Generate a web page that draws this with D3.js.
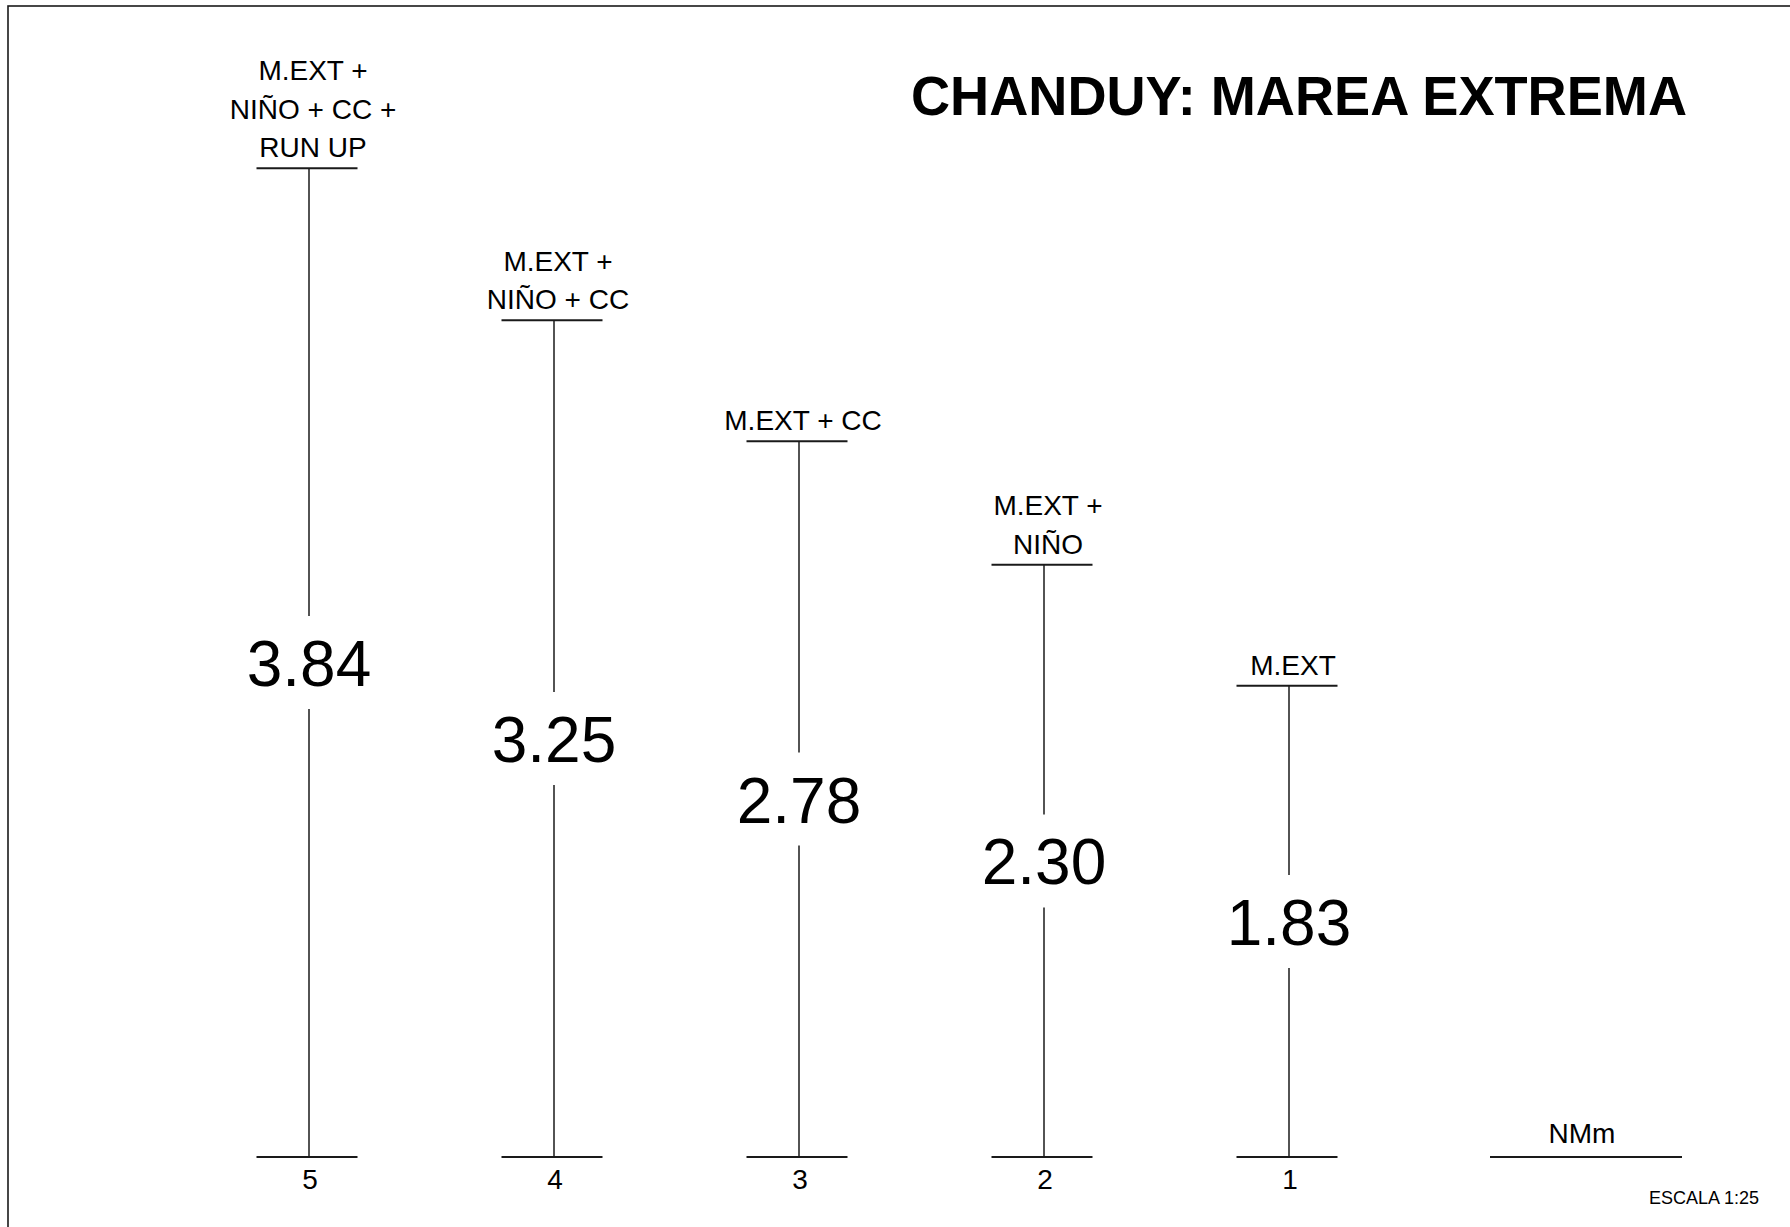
<!DOCTYPE html>
<html>
<head>
<meta charset="utf-8">
<script src="https://cdn.jsdelivr.net/npm/d3@7"></script>
<style>
	html, body { margin: 0; padding: 0; background: #fff; }
	svg { display: block; font-family: "Liberation Sans", Arial, sans-serif; }
</style>
</head>
<body>
<div id="chart"></div>
<script>
// data
var categories = ["5", "4", "3", "2", "1"];
var values = [3.84, 3.25, 2.78, 2.30, 1.83];
var valueLabels = ["3.84", "3.25", "2.78", "2.30", "1.83"];
var topLabels = [
	["M.EXT +", "NIÑO + CC +", "RUN UP"],
	["M.EXT +", "NIÑO + CC"],
	["M.EXT + CC"],
	["M.EXT +", "NIÑO"],
	["M.EXT"]
];
var refLabel = "NMm";
var titleText = "CHANDUY: MAREA EXTREMA";
var scaleText = "ESCALA 1:25";

var width = 1790, height = 1227;
var ink = "#1a1a1a";

var svg = d3.select("#chart").append("svg")
	.attr("width", width)
	.attr("height", height);

// frame (only top and left sides are inside the sheet)
svg.append("rect")
	.attr("x", 8)
	.attr("y", 6)
	.attr("width", width + 20)
	.attr("height", height + 20)
	.attr("fill", "none")
	.attr("stroke", ink)
	.attr("stroke-width", 1.6);

// scales
var x = d3.scalePoint().domain(categories).range([309, 1289]);
var y = d3.scaleLinear().domain([0, 3.84]).range([1157, 1157 - 3.84 * 257.5]);

var rows = categories.map(function (c, i) {
	return {cat: c, value: values[i], label: valueLabels[i], top: topLabels[i]};
});

var halfBar = 50.5;
var gap = 46.5;

var g = svg.selectAll("g.col")
	.data(rows)
	.enter().append("g")
	.attr("class", "col");

// base ticks
g.append("line")
	.attr("x1", function (d) { return x(d.cat) - 2 - halfBar; })
	.attr("x2", function (d) { return x(d.cat) - 2 + halfBar; })
	.attr("y1", y(0))
	.attr("y2", y(0))
	.attr("stroke", ink)
	.attr("stroke-width", 2);

// top ticks
g.append("line")
	.attr("x1", function (d) { return x(d.cat) - 2 - halfBar; })
	.attr("x2", function (d) { return x(d.cat) - 2 + halfBar; })
	.attr("y1", function (d) { return y(d.value); })
	.attr("y2", function (d) { return y(d.value); })
	.attr("stroke", ink)
	.attr("stroke-width", 2);

// stem, broken around the value text
g.append("line")
	.attr("x1", function (d) { return x(d.cat); })
	.attr("x2", function (d) { return x(d.cat); })
	.attr("y1", function (d) { return y(d.value); })
	.attr("y2", function (d) { return (y(d.value) + y(0)) / 2 - gap; })
	.attr("stroke", ink)
	.attr("stroke-width", 1.5);

g.append("line")
	.attr("x1", function (d) { return x(d.cat); })
	.attr("x2", function (d) { return x(d.cat); })
	.attr("y1", function (d) { return (y(d.value) + y(0)) / 2 + gap; })
	.attr("y2", y(0))
	.attr("stroke", ink)
	.attr("stroke-width", 1.5);

// value text
g.append("text")
	.attr("x", function (d) { return x(d.cat); })
	.attr("y", function (d) { return (y(d.value) + y(0)) / 2 + 23.5; })
	.attr("text-anchor", "middle")
	.attr("font-size", "64px")
	.attr("fill", "#000")
	.text(function (d) { return d.label; });

// category number under the base
g.append("text")
	.attr("x", function (d) { return x(d.cat) + 1; })
	.attr("y", y(0) + 32)
	.attr("text-anchor", "middle")
	.attr("font-size", "28px")
	.attr("fill", "#000")
	.text(function (d) { return d.cat; });

// stacked labels above each top tick
g.each(function (d) {
	var n = d.top.length;
	d3.select(this).selectAll("text.top")
		.data(d.top)
		.enter().append("text")
		.attr("class", "top")
		.attr("x", x(d.cat) + 4)
		.attr("y", function (t, j) { return y(d.value) - 11 - (n - 1 - j) * 38.5; })
		.attr("text-anchor", "middle")
		.attr("font-size", "28px")
		.attr("fill", "#000")
		.text(function (t) { return t; });
});

// reference level NMm
var refX = x("1");
svg.append("line")
	.attr("x1", refX + 201)
	.attr("x2", refX + 393)
	.attr("y1", y(0))
	.attr("y2", y(0))
	.attr("stroke", ink)
	.attr("stroke-width", 2);

svg.append("text")
	.attr("x", refX + 293)
	.attr("y", y(0) - 14)
	.attr("text-anchor", "middle")
	.attr("font-size", "28px")
	.attr("fill", "#000")
	.text(refLabel);

// title
svg.append("text")
	.attr("x", 911)
	.attr("y", 115)
	.attr("font-size", "56px")
	.attr("font-weight", "bold")
	.attr("textLength", 776)
	.attr("lengthAdjust", "spacingAndGlyphs")
	.attr("fill", "#000")
	.text(titleText);

// scale note
svg.append("text")
	.attr("x", 1759)
	.attr("y", 1204)
	.attr("text-anchor", "end")
	.attr("font-size", "18px")
	.attr("fill", "#000")
	.text(scaleText);
</script>
</body>
</html>
